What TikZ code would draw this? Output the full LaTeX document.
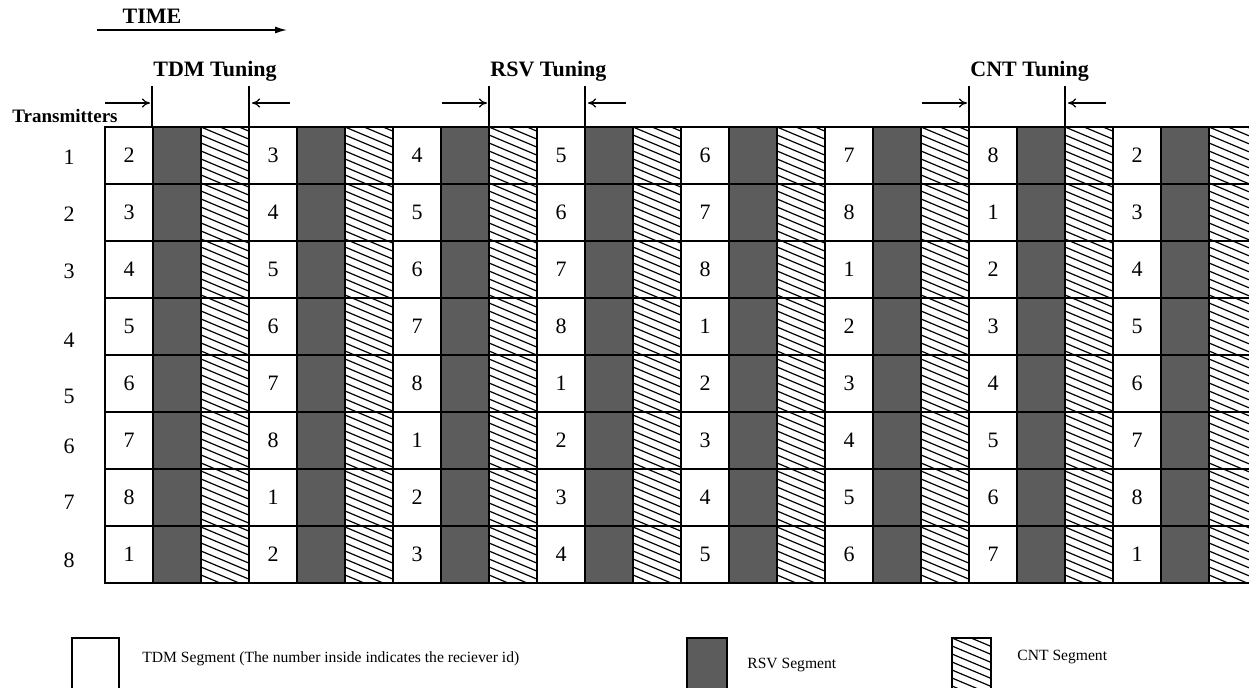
\documentclass[tikz,border=0pt]{standalone}
\usepackage{fontspec}
\setmainfont{Liberation Serif}
\usetikzlibrary{arrows.meta}
\definecolor{rsvgray}{RGB}{92,92,92}

% hatched CNT strip: x0, x1, y0, y1 (pixel units)
\newcommand{\cnthatch}[4]{%
  \begin{scope}
    \clip (#1,#3) rectangle (#2,#4);
    \pgfmathtruncatemacro{\hfirst}{#3-24}
    \pgfmathtruncatemacro{\hnext}{#3-16}
    \pgfmathsetmacro{\hdrop}{0.42*(#2-#1)}
    \foreach \yy in {\hfirst,\hnext,...,#4}
      \draw[line width=0.6pt] (#1,\yy) -- (#2,\yy+\hdrop);
  \end{scope}}

\tikzset{
  seg/.style={draw=black, line width=0.9pt},
  tdmseg/.style={seg, fill=white},
  rsvseg/.style={seg, fill=rsvgray},
  cellnum/.style={font=\fontsize{11}{13}\selectfont, inner sep=0pt},
  boldlabel/.style={font=\fontsize{11}{13}\selectfont\bfseries, inner sep=0pt},
  legendtext/.style={font=\fontsize{7.8}{9}\selectfont, anchor=west, inner sep=0pt},
  legendbox/.style={draw=black, line width=0.6pt},
  tunearrow/.style={-{To[length=4pt,width=4.5pt]}, line width=0.6pt},
}

\begin{document}
\begin{tikzpicture}[x=0.5pt, y=-0.5pt]
  \useasboundingbox (0,0) rectangle (1249,687);
  \clip (0,0) rectangle (1249,687);

  % time axis
  \node[boldlabel] (time) at (152,16) {TIME};
  \coordinate (time-a) at (97,30);
  \coordinate (time-b) at (287,30);
  \draw[-{Latex[length=6pt,width=3.5pt]}, line width=0.7pt] (time-a) -- (time-b);

  \node[boldlabel, font=\fontsize{9.5}{11}\selectfont\bfseries, anchor=west] (tx) at (12,116) {Transmitters};

  % segment columns
  \foreach \i in {0,...,23} {
    \pgfmathtruncatemacro{\kind}{mod(\i,3)}
    \pgfmathtruncatemacro{\xa}{105+48*\i}
    \pgfmathtruncatemacro{\xb}{153+48*\i}
    \ifcase\kind
      \path[tdmseg] (\xa,127) rectangle (\xb,583);
    \or
      \path[rsvseg] (\xa,127) rectangle (\xb,583);
    \or
      \cnthatch{\xa}{\xb}{127}{583}
      \path[seg] (\xa,127) rectangle (\xb,583);
    \fi
  }
  \foreach \r in {0,...,8}
    \draw[line width=0.9pt] (105,127+57*\r) -- (1260,127+57*\r);

  % transmitter ids and receiver ids
  \foreach \r/\ty in {1/157, 2/214, 3/271, 4/340, 5/396, 6/446, 7/502, 8/560}
    \node[cellnum] (tx-\r) at (69,\ty) {\r};
  \foreach \r in {1,...,8} {
    \foreach \k in {0,...,7} {
      \pgfmathtruncatemacro{\rcv}{mod(\r+mod(\k,7),8)+1}
      \node[cellnum] (n-\r-\k) at (129+144*\k,155.5+57*\r-57) {\rcv};
    }
  }

  % tuning intervals
  \foreach \name/\xl/\xr/\txt in {tdm/152/249/TDM, rsv/489/585/RSV, cnt/969/1065/CNT} {
    \coordinate (\name-lt) at (\xl,86);
    \coordinate (\name-lb) at (\xl,127);
    \coordinate (\name-rt) at (\xr,86);
    \coordinate (\name-rb) at (\xr,127);
    \coordinate (\name-ia) at (\xl-47,103);
    \coordinate (\name-ib) at (\xl-2,103);
    \coordinate (\name-ja) at (\xr+41,103);
    \coordinate (\name-jb) at (\xr+3,103);
    \draw[line width=0.7pt] (\name-lt) -- (\name-lb);
    \draw[line width=0.7pt] (\name-rt) -- (\name-rb);
    \draw[tunearrow] (\name-ia) -- (\name-ib);
    \draw[tunearrow] (\name-ja) -- (\name-jb);
    \node[boldlabel, anchor=west] (\name-tune) at (\xl+1,71) {\txt{} Tuning};
  }

  % legend
  \path[legendbox, fill=white] (72,638) rectangle (119,700);
  \node[legendtext] (leg-tdm) at (142,659) {TDM Segment (The number inside indicates the reciever id)};
  \path[legendbox, fill=rsvgray] (687,638) rectangle (727,700);
  \node[legendtext] (leg-rsv) at (747,665) {RSV Segment};
  \cnthatch{952}{991}{638}{700}
  \path[legendbox] (952,638) rectangle (991,700);
  \node[legendtext] (leg-cnt) at (1017,657) {CNT Segment};
\end{tikzpicture}
\end{document}
